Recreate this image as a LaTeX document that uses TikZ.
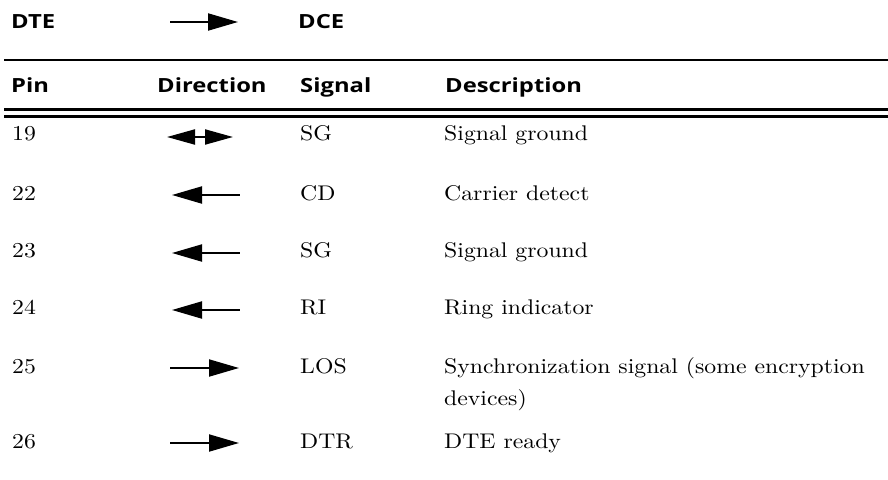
\documentclass[tikz,border=0pt]{standalone}
\usepackage{fontspec}
\setmainfont{lmroman10-regular.otf}[FakeStretch=1.12]
\newfontfamily\hdrfont{Open Sans}[FakeStretch=1.22]
\usetikzlibrary{arrows.meta}

\begin{document}
\begin{tikzpicture}[x=1pt,y=1pt,
  hdr/.style={anchor=base west,inner sep=0pt,font=\hdrfont\bfseries\fontsize{19.5}{23}\selectfont},
  cell/.style={anchor=base west,inner sep=0pt,font=\fontsize{21.2}{26}\selectfont},
  rule/.style={line width=2.5pt},
  sig/.style={line width=2pt},
  toR/.style={sig,-{Triangle[length=30pt,width=17pt]}},
  toL/.style={sig,{Triangle[length=30pt,width=17pt]}-},
  both/.style={sig,{Triangle[length=28pt,width=15pt]}-{Triangle[length=28pt,width=15pt]}}
]
\useasboundingbox (0,0) rectangle (888,-479);

% title line: DTE -> DCE
\node[hdr] (dte) at (11,-28) {DTE};
\node[hdr] (dce) at (298,-28) {DCE};
\coordinate (ta) at (170,-22);
\coordinate (tb) at (238,-22);
\draw[toR] (ta) -- (tb);

% rules
\coordinate (r1a) at (4,-60);    \coordinate (r1b) at (888,-60);
\coordinate (r2a) at (4,-109.5); \coordinate (r2b) at (888,-109.5);
\coordinate (r3a) at (4,-116.5); \coordinate (r3b) at (888,-116.5);
\draw[rule] (r1a) -- (r1b);
\draw[rule] (r2a) -- (r2b);
\draw[rule] (r3a) -- (r3b);

% column headings
\node[hdr] (hpin) at (11,-92) {Pin};
\node[hdr] (hdir) at (157,-92) {Direction};
\node[hdr] (hsig) at (300,-92) {Signal};
\node[hdr] (hdes) at (445,-92) {Description};

% rows
\node[cell] (p19) at (12,-140) {19};
\node[cell] (s19) at (300,-140) {SG};
\node[cell] (d19) at (444,-140) {Signal ground};
\coordinate (a19l) at (167,-137); \coordinate (a19r) at (233,-137);
\draw[both] (a19l) -- (a19r);

\node[cell] (p22) at (12,-200) {22};
\node[cell] (s22) at (300,-200) {CD};
\node[cell] (d22) at (444,-200) {Carrier detect};
\coordinate (a22l) at (172,-195); \coordinate (a22r) at (240,-195);
\draw[toL] (a22l) -- (a22r);

\node[cell] (p23) at (12,-257) {23};
\node[cell] (s23) at (300,-257) {SG};
\node[cell] (d23) at (444,-257) {Signal ground};
\coordinate (a23l) at (172,-253); \coordinate (a23r) at (240,-253);
\draw[toL] (a23l) -- (a23r);

\node[cell] (p24) at (12,-314) {24};
\node[cell] (s24) at (300,-314) {RI};
\node[cell] (d24) at (444,-314) {Ring indicator};
\coordinate (a24l) at (172,-310); \coordinate (a24r) at (240,-310);
\draw[toL] (a24l) -- (a24r);

\node[cell] (p25) at (12,-373) {25};
\node[cell] (s25) at (300,-373) {LOS};
\node[cell] (d25) at (444,-373) {Synchronization signal (some encryption};
\node[cell] (d25b) at (444,-405) {devices)};
\coordinate (a25l) at (170,-368); \coordinate (a25r) at (239,-368);
\draw[toR] (a25l) -- (a25r);

\node[cell] (p26) at (12,-448) {26};
\node[cell] (s26) at (300,-448) {DTR};
\node[cell] (d26) at (444,-448) {DTE ready};
\coordinate (a26l) at (170,-443); \coordinate (a26r) at (239,-443);
\draw[toR] (a26l) -- (a26r);
\end{tikzpicture}
\end{document}
